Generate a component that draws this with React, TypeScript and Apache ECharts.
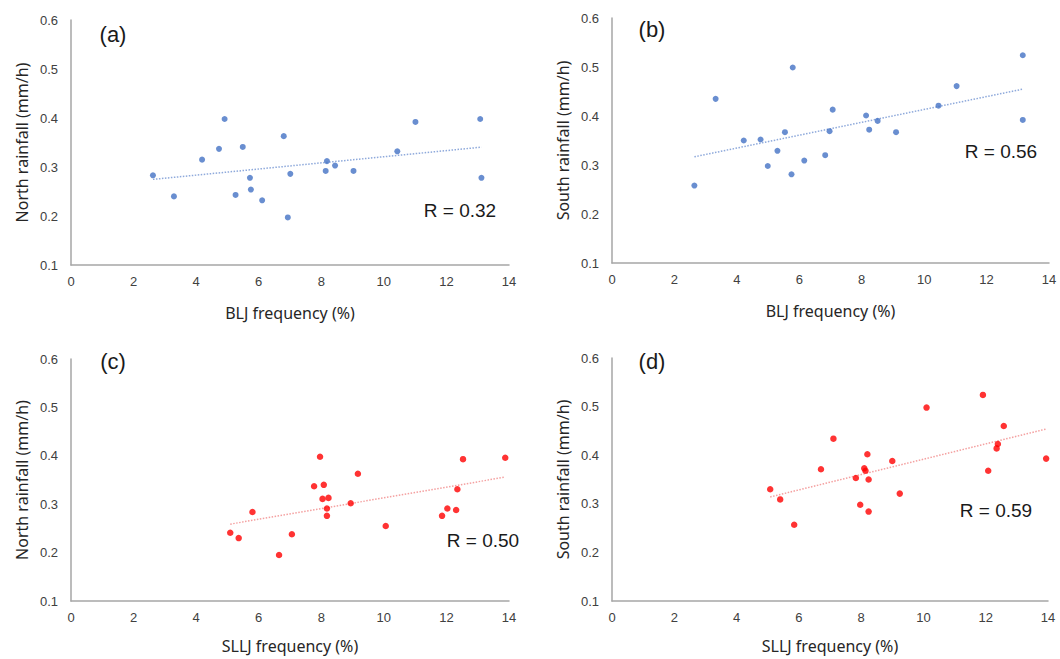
import React, { useEffect, useRef } from "react";
import * as echarts from "echarts";

// Panel (a): BLJ frequency vs North rainfall
const bljA = [2.62, 3.29, 4.19, 4.73, 4.91, 5.49, 5.26, 5.72, 5.75, 6.11, 6.8, 7.01, 6.93, 8.14, 8.18, 8.44, 9.03, 10.43, 11.01, 13.08, 13.12];
const northA = [0.283, 0.24, 0.315, 0.337, 0.398, 0.341, 0.243, 0.278, 0.254, 0.232, 0.363, 0.286, 0.197, 0.292, 0.312, 0.303, 0.292, 0.332, 0.392, 0.398, 0.278];

// Panel (b): BLJ frequency vs South rainfall
const bljB = [2.64, 3.32, 4.22, 4.76, 4.99, 5.3, 5.54, 5.75, 5.79, 6.16, 6.83, 6.97, 7.07, 8.14, 8.24, 8.51, 9.1, 10.46, 11.04, 13.16, 13.16];
const southB = [0.258, 0.435, 0.35, 0.352, 0.298, 0.329, 0.367, 0.281, 0.499, 0.309, 0.32, 0.369, 0.413, 0.401, 0.372, 0.39, 0.367, 0.421, 0.461, 0.524, 0.392];

// Panel (c): SLLJ frequency vs North rainfall
const slljC = [5.09, 5.36, 5.8, 6.65, 7.06, 7.77, 7.96, 8.08, 8.04, 8.23, 8.18, 8.18, 8.94, 9.17, 10.06, 11.86, 12.03, 12.31, 12.35, 12.53, 13.88];
const northC = [0.241, 0.23, 0.284, 0.195, 0.238, 0.337, 0.398, 0.34, 0.311, 0.313, 0.291, 0.276, 0.302, 0.363, 0.255, 0.276, 0.291, 0.288, 0.331, 0.393, 0.396];

// Panel (d): SLLJ frequency vs South rainfall
const slljD = [5.08, 5.4, 5.85, 6.71, 7.11, 7.83, 7.97, 8.1, 8.14, 8.2, 8.24, 8.24, 9.0, 9.24, 10.1, 11.91, 12.08, 12.35, 12.39, 12.58, 13.94];
const southD = [0.33, 0.309, 0.257, 0.371, 0.434, 0.353, 0.298, 0.373, 0.368, 0.402, 0.35, 0.284, 0.388, 0.321, 0.498, 0.524, 0.368, 0.414, 0.423, 0.46, 0.393];

const xTicks = [0, 2, 4, 6, 8, 10, 12, 14];
const yTicks = [0.1, 0.2, 0.3, 0.4, 0.5, 0.6];

const panelLabels = ["(a)", "(b)", "(c)", "(d)"];
const rLabels = ["R = 0.32", "R = 0.56", "R = 0.50", "R = 0.59"];
const xNames = ["BLJ frequency (%)", "BLJ frequency (%)", "SLLJ frequency (%)", "SLLJ frequency (%)"];
const yNames = ["North rainfall (mm/h)", "South rainfall (mm/h)", "North rainfall (mm/h)", "South rainfall (mm/h)"];

function linreg(xs: number[], ys: number[]) {
  const n = xs.length;
  const mx = xs.reduce((a, b) => a + b, 0) / n;
  const my = ys.reduce((a, b) => a + b, 0) / n;
  let sxy = 0, sxx = 0;
  for (let i = 0; i < n; i++) {
    sxy += (xs[i] - mx) * (ys[i] - my);
    sxx += (xs[i] - mx) * (xs[i] - mx);
  }
  const b = sxy / sxx;
  const a = my - b * mx;
  const x0 = Math.min(...xs), x1 = Math.max(...xs);
  return [[x0, a + b * x0], [x1, a + b * x1]];
}

export default function App() {
  const ref = useRef<HTMLDivElement>(null);
  useEffect(() => {
    if (!ref.current) return;
    const chart = echarts.init(ref.current, null, { renderer: "svg" });
    const panels = [
      { xs: bljA, ys: northA, color: "#4472C4", trend: "#8EA9DB", size: 6 },
      { xs: bljB, ys: southB, color: "#4472C4", trend: "#8EA9DB", size: 6 },
      { xs: slljC, ys: northC, color: "#FF0000", trend: "#F4A0A0", size: 6.5 },
      { xs: slljD, ys: southD, color: "#FF0000", trend: "#F4A0A0", size: 6.5 },
    ];
    const grids = [
      { left: 71, top: 20, width: 438, height: 245 },
      { left: 612, top: 18, width: 437, height: 245 },
      { left: 71, top: 359, width: 438, height: 242 },
      { left: 612, top: 358, width: 436, height: 243 },
    ];
    const panelPos = [
      [113, 34],
      [652, 29],
      [113, 361],
      [652, 361],
    ];
    const rPos = [
      [460, 210],
      [1001, 151],
      [483, 540],
      [996, 510],
    ];
    const labelStyle = { fontFamily: "Liberation Sans", fontSize: 13, color: "#404040" };
    const nameStyle = { fontFamily: "Noto Sans", fontSize: 16, color: "#262626", lineHeight: 16 };
    const axisLine = { show: true, lineStyle: { color: "#A6A6A6", width: 1.5 } };

    const option: any = {
      animation: false,
      backgroundColor: "#ffffff",
      grid: grids.map((g) => ({ ...g, containLabel: false })),
      xAxis: grids.map((_, i) => ({
        type: "value",
        gridIndex: i,
        min: xTicks[0],
        max: xTicks[xTicks.length - 1],
        interval: 2,
        axisLine,
        axisTick: { show: false },
        splitLine: { show: false },
        axisLabel: { ...labelStyle, margin: 10 },
        name: xNames[i],
        nameLocation: "middle",
        nameGap: i < 2 ? 40 : 37,
        nameTextStyle: nameStyle,
      })),
      yAxis: grids.map((_, i) => ({
        type: "value",
        gridIndex: i,
        min: yTicks[0],
        max: yTicks[yTicks.length - 1],
        interval: 0.1,
        axisLine,
        axisTick: { show: false },
        splitLine: { show: false },
        axisLabel: { ...labelStyle, margin: 13, formatter: (v: number) => v.toFixed(1) },
        name: yNames[i],
        nameLocation: "middle",
        nameGap: 41,
        nameTextStyle: nameStyle,
      })),
      series: panels.flatMap((p, i) => [
        {
          type: "line",
          xAxisIndex: i,
          yAxisIndex: i,
          data: linreg(p.xs, p.ys),
          symbol: "none",
          silent: true,
          lineStyle: { color: p.trend, width: 1.5, type: "dotted" },
          z: 1,
        },
        {
          type: "scatter",
          xAxisIndex: i,
          yAxisIndex: i,
          data: p.xs.map((x, k) => [x, p.ys[k]]),
          symbolSize: p.size,
          itemStyle: { color: p.color },
          z: 2,
        },
      ]),
      graphic: [
        ...panelLabels.map((t, i) => ({
          type: "text",
          x: panelPos[i][0],
          y: panelPos[i][1],
          style: {
            text: t,
            fontFamily: "Liberation Sans",
            fontSize: 22,
            fill: "#1a1a1a",
            align: "center",
            verticalAlign: "middle",
          },
        })),
        ...rLabels.map((t, i) => ({
          type: "text",
          x: rPos[i][0],
          y: rPos[i][1],
          style: {
            text: t,
            fontFamily: "Liberation Sans",
            fontSize: 19,
            fill: "#1a1a1a",
            align: "center",
            verticalAlign: "middle",
          },
        })),
      ],
    };
    chart.setOption(option);
    return () => chart.dispose();
  }, []);
  return (
    <div
      ref={ref}
      style={{ position: "fixed", left: 0, top: 0, width: 1060, height: 659, background: "#fff" }}
    />
  );
}
